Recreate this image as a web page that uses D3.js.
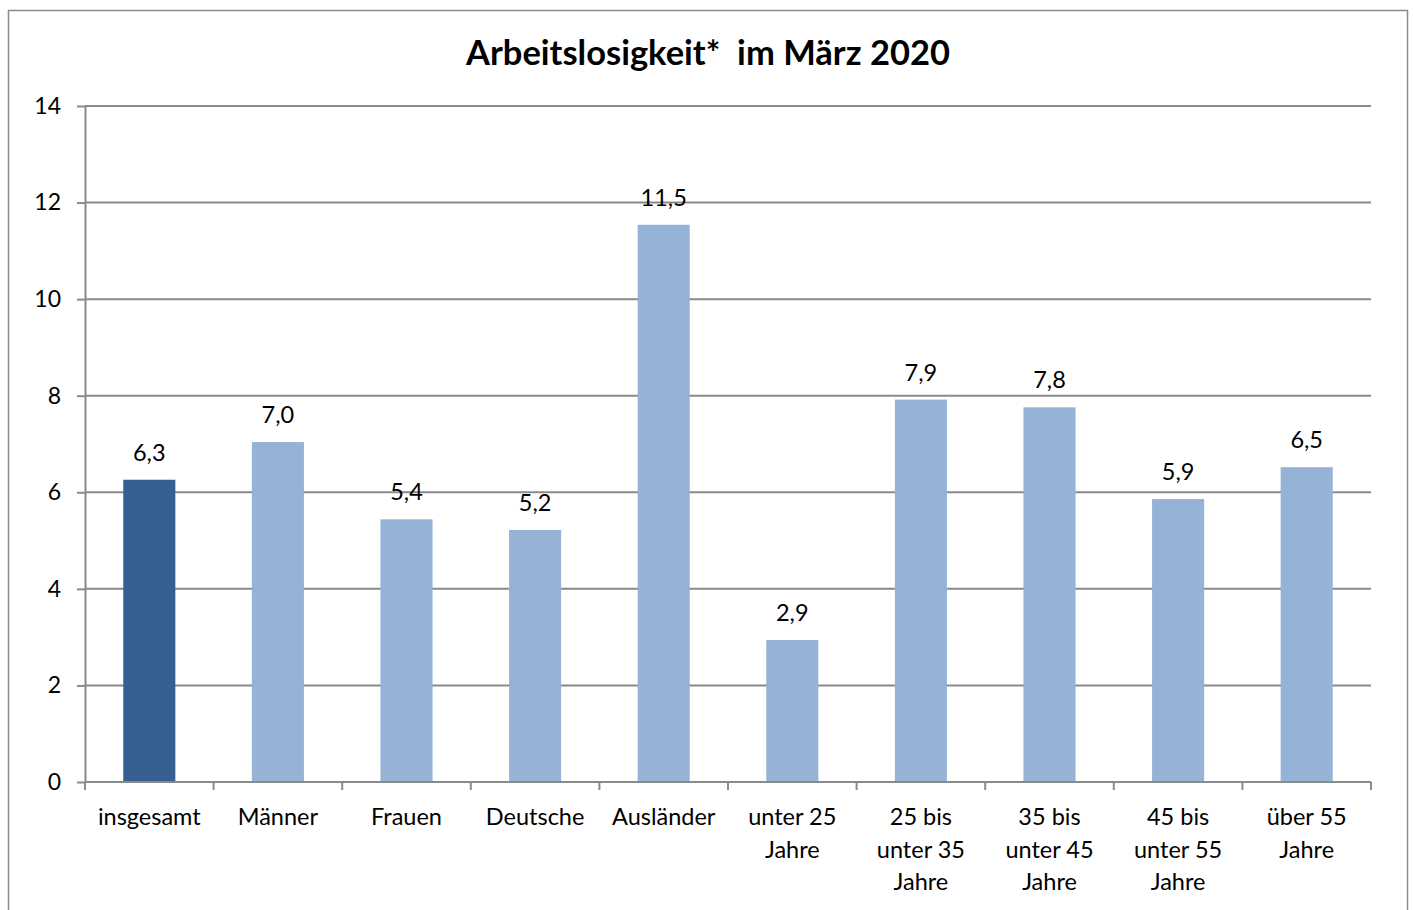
<!DOCTYPE html>
<html>
<head>
<meta charset="utf-8">
<script src="https://cdn.jsdelivr.net/npm/d3@7"></script>
<style>
  body { margin: 0; background: #fff; }
  text { font-family: Lato, "Noto Sans", sans-serif; fill: #000; }
</style>
</head>
<body>
<div id="chart-area"></div>
<script>
// daten
const categories = ["insgesamt", "Männer", "Frauen", "Deutsche", "Ausländer",
  "unter 25 Jahre", "25 bis unter 35 Jahre", "35 bis unter 45 Jahre", "45 bis unter 55 Jahre", "über 55 Jahre"]
const labelLines = [["insgesamt"], ["Männer"], ["Frauen"], ["Deutsche"], ["Ausländer"],
  ["unter 25", "Jahre"], ["25 bis", "unter 35", "Jahre"], ["35 bis", "unter 45", "Jahre"],
  ["45 bis", "unter 55", "Jahre"], ["über 55", "Jahre"]]
const values = [6.26, 7.04, 5.44, 5.22, 11.54, 2.94, 7.92, 7.76, 5.86, 6.52]
const yTicks = [0, 2, 4, 6, 8, 10, 12, 14]

const W = 1413, H = 910
const margin = { left: 85, right: 42, top: 106, bottom: 128 }
const width = W - margin.left - margin.right
const height = H - margin.top - margin.bottom

const svg = d3.select("#chart-area").append("svg")
  .attr("width", W)
  .attr("height", H)

// rahmen
svg.append("rect")
  .attr("x", 8.5).attr("y", 10.5)
  .attr("width", 1399).attr("height", 920)
  .attr("fill", "none")
  .attr("stroke", "#8c8c8c")
  .attr("stroke-width", 1.5)

// titel
svg.append("text")
  .attr("x", 708)
  .attr("y", 65)
  .attr("text-anchor", "middle")
  .attr("font-size", "34.5px")
  .attr("font-weight", "bold")
  .attr("xml:space", "preserve")
  .text("Arbeitslosigkeit*  im März 2020")

const g = svg.append("g")
  .attr("transform", `translate(${margin.left}, ${margin.top})`)

const x = d3.scaleBand()
  .domain(categories)
  .range([0, width])
  .paddingInner(0.595)
  .paddingOuter(0.2975)

const y = d3.scaleLinear()
  .domain([0, 14])
  .range([height, 0])

// gitterlinien
g.append("g")
  .selectAll("line")
  .data(yTicks.filter(d => d > 0))
  .enter().append("line")
    .attr("x1", 0).attr("x2", width)
    .attr("y1", d => y(d)).attr("y2", d => y(d))
    .attr("stroke", "#8a8a8a")
    .attr("stroke-width", 2)

// y-achse
const yAxis = g.append("g")
  .call(d3.axisLeft(y).tickValues(yTicks).tickSize(8).tickPadding(16).tickSizeOuter(0))
yAxis.select(".domain").attr("stroke", "#8a8a8a").attr("stroke-width", 2)
yAxis.selectAll(".tick line").attr("stroke", "#8a8a8a").attr("stroke-width", 2)
yAxis.selectAll(".tick text").attr("font-size", "23px").attr("fill", "#000")
  .attr("font-family", "Lato, sans-serif")

// balken
g.selectAll("rect.bar")
  .data(values)
  .enter().append("rect")
    .attr("class", "bar")
    .attr("x", (d, i) => x(categories[i]))
    .attr("y", d => y(d))
    .attr("width", x.bandwidth())
    .attr("height", d => height - y(d))
    .attr("fill", (d, i) => i === 0 ? "#366092" : "#95b3d7")

// werte
const fmt = d3.format(".1f")
g.selectAll("text.val")
  .data(values)
  .enter().append("text")
    .attr("class", "val")
    .attr("x", (d, i) => x(categories[i]) + x.bandwidth() / 2)
    .attr("y", d => y(d) - 19)
    .attr("text-anchor", "middle")
    .attr("font-size", "23.5px")
    .text(d => fmt(d).replace(".", ","))

// x-achse
const step = x.step()
g.append("line")
  .attr("x1", 0).attr("x2", width)
  .attr("y1", height).attr("y2", height)
  .attr("stroke", "#8a8a8a").attr("stroke-width", 2)
g.append("g")
  .selectAll("line")
  .data(d3.range(categories.length + 1))
  .enter().append("line")
    .attr("x1", i => i * step).attr("x2", i => i * step)
    .attr("y1", height).attr("y2", height + 8)
    .attr("stroke", "#8a8a8a").attr("stroke-width", 2)

const labels = g.selectAll("text.cat")
  .data(categories)
  .enter().append("text")
    .attr("class", "cat")
    .attr("x", d => x(d) + x.bandwidth() / 2)
    .attr("y", height + 43)
    .attr("text-anchor", "middle")
    .attr("font-size", "23.5px")
labels.each(function(d, i) {
  d3.select(this).selectAll("tspan")
    .data(labelLines[i])
    .enter().append("tspan")
      .attr("x", x(d) + x.bandwidth() / 2)
      .attr("dy", (t, j) => j === 0 ? 0 : 32.5)
      .text(t => t)
})
</script>
</body>
</html>
